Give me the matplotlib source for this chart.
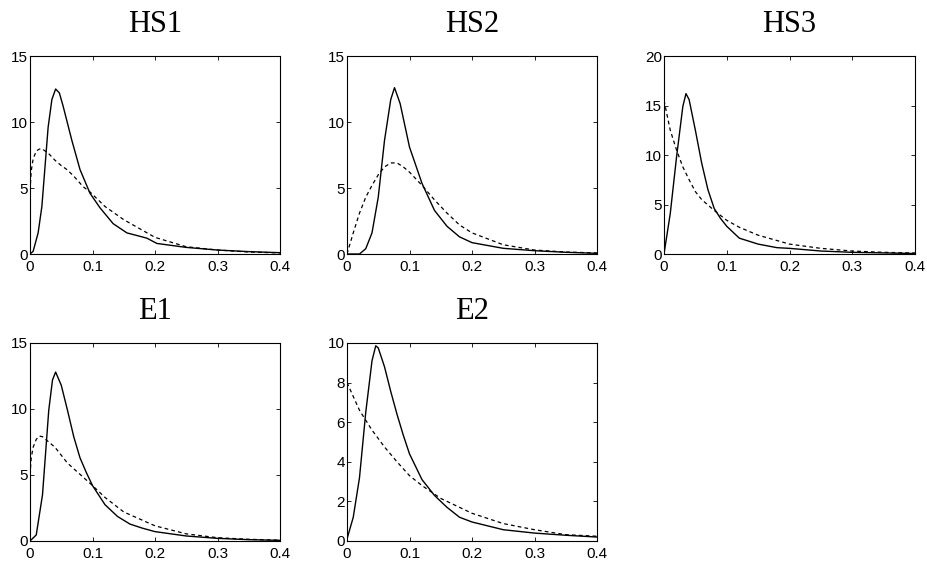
import matplotlib
matplotlib.use("Agg")
import matplotlib.pyplot as plt

# panel titles
titles = ["HS1", "HS2", "HS3", "E1", "E2"]
y_limits = [15, 15, 20, 15, 10]
y_steps = [5, 5, 5, 5, 2]
x_ticks = [0, 0.1, 0.2, 0.3, 0.4]
x_tick_labels = ["0", "0.1", "0.2", "0.3", "0.4"]

# HS1
hs1_solid_x = [0, 0.005, 0.013, 0.019, 0.024, 0.029, 0.035, 0.041, 0.047, 0.053, 0.060, 0.067,
               0.080, 0.096, 0.112, 0.133, 0.155, 0.187, 0.203, 0.25, 0.3, 0.35, 0.4]
hs1_solid_y = [0, 0.2, 1.6, 3.6, 6.6, 9.6, 11.7, 12.5, 12.2, 11.2, 9.9, 8.6,
               6.4, 4.6, 3.5, 2.3, 1.6, 1.2, 0.8, 0.5, 0.3, 0.18, 0.1]
hs1_dash_x = [0, 0.002, 0.005, 0.01, 0.015, 0.02, 0.03, 0.04, 0.05, 0.059, 0.07, 0.085,
              0.096, 0.12, 0.15, 0.2, 0.25, 0.3, 0.35, 0.4]
hs1_dash_y = [4.8, 6.3, 7.2, 7.8, 7.95, 7.95, 7.6, 7.1, 6.7, 6.4, 5.9, 5.1,
              4.7, 3.6, 2.6, 1.26, 0.55, 0.3, 0.15, 0.08]

# HS2
hs2_solid_x = [0, 0.02, 0.03, 0.04, 0.05, 0.06, 0.07, 0.076, 0.085, 0.1, 0.12, 0.14,
               0.16, 0.18, 0.2, 0.25, 0.3, 0.35, 0.4]
hs2_solid_y = [0, 0, 0.4, 1.6, 4.3, 8.6, 11.7, 12.6, 11.4, 8.1, 5.35, 3.3,
               2.1, 1.3, 0.86, 0.43, 0.25, 0.13, 0.05]
hs2_dash_x = [0, 0.01, 0.02, 0.03, 0.04, 0.05, 0.06, 0.07, 0.08, 0.09, 0.1, 0.12,
              0.14, 0.16, 0.18, 0.2, 0.25, 0.3, 0.35, 0.4]
hs2_dash_y = [0, 1.6, 3.1, 4.3, 5.2, 6.0, 6.6, 6.9, 6.9, 6.6, 6.2, 5.2,
              4.1, 3.1, 2.2, 1.6, 0.7, 0.3, 0.15, 0.08]

# HS3
hs3_solid_x = [0, 0.01, 0.02, 0.03, 0.035, 0.04, 0.05, 0.06, 0.07, 0.08, 0.09, 0.1,
               0.12, 0.15, 0.18, 0.2, 0.25, 0.3, 0.4]
hs3_solid_y = [0, 4.1, 9.8, 14.9, 16.2, 15.6, 12.5, 9.2, 6.5, 4.6, 3.6, 2.8,
               1.6, 1.0, 0.64, 0.57, 0.3, 0.17, 0.05]
hs3_dash_x = [0, 0.01, 0.02, 0.03, 0.04, 0.05, 0.06, 0.08, 0.1, 0.12, 0.15, 0.2,
              0.25, 0.3, 0.35, 0.4]
hs3_dash_y = [15.5, 12.5, 10.5, 8.8, 7.5, 6.3, 5.5, 4.4, 3.4, 2.7, 1.9, 1.0,
              0.57, 0.3, 0.17, 0.1]

# E1
e1_solid_x = [0, 0.01, 0.02, 0.03, 0.036, 0.041, 0.05, 0.06, 0.07, 0.08, 0.09, 0.1,
              0.12, 0.14, 0.16, 0.18, 0.2, 0.25, 0.3, 0.35, 0.4]
e1_solid_y = [0, 0.46, 3.5, 9.9, 12.2, 12.8, 11.8, 9.9, 7.9, 6.3, 5.2, 4.2,
              2.75, 1.86, 1.28, 0.97, 0.71, 0.38, 0.2, 0.1, 0.05]
e1_dash_x = [0, 0.002, 0.005, 0.01, 0.015, 0.02, 0.04, 0.06, 0.08, 0.1, 0.12, 0.15,
             0.2, 0.25, 0.3, 0.35, 0.4]
e1_dash_y = [5.0, 6.3, 7.1, 7.7, 7.95, 7.9, 7.1, 5.9, 5.05, 4.2, 3.3, 2.2,
             1.15, 0.54, 0.25, 0.13, 0.06]

# E2
e2_solid_x = [0, 0.01, 0.02, 0.03, 0.04, 0.046, 0.05, 0.06, 0.07, 0.08, 0.09, 0.1,
              0.12, 0.14, 0.16, 0.18, 0.2, 0.25, 0.3, 0.35, 0.4]
e2_solid_y = [0.1, 1.2, 3.2, 6.5, 9.1, 9.86, 9.75, 8.8, 7.55, 6.4, 5.35, 4.4,
              3.1, 2.3, 1.7, 1.2, 0.96, 0.57, 0.4, 0.29, 0.2]
e2_dash_x = [0, 0.02, 0.04, 0.06, 0.08, 0.1, 0.12, 0.15, 0.2, 0.25, 0.3, 0.35, 0.4]
e2_dash_y = [8.0, 6.6, 5.6, 4.75, 4.0, 3.3, 2.8, 2.15, 1.4, 0.88, 0.57, 0.32, 0.24]

solid_x = [hs1_solid_x, hs2_solid_x, hs3_solid_x, e1_solid_x, e2_solid_x]
solid_y = [hs1_solid_y, hs2_solid_y, hs3_solid_y, e1_solid_y, e2_solid_y]
dash_x = [hs1_dash_x, hs2_dash_x, hs3_dash_x, e1_dash_x, e2_dash_x]
dash_y = [hs1_dash_y, hs2_dash_y, hs3_dash_y, e1_dash_y, e2_dash_y]

W, H = 927, 565
fig = plt.figure(figsize=(W / 100, H / 100), dpi=100)
fig.patch.set_facecolor("white")

# axes boxes in pixels: left, top, right, bottom
boxes = [(30, 56, 280, 254), (347, 56, 597, 254), (664, 56, 915, 254),
         (30, 343, 280, 541), (347, 343, 597, 541)]

for i, (l, t, r, b) in enumerate(boxes):
    ax = fig.add_axes([l / W, 1 - b / H, (r - l) / W, (b - t) / H])
    ax.plot(solid_x[i], solid_y[i], color="black", linewidth=1.0)
    ax.plot(dash_x[i], dash_y[i], color="black", linewidth=0.9, linestyle=(0, (3, 2.5)))
    ax.set_xlim(0, 0.4)
    ax.set_ylim(0, y_limits[i])
    ax.set_xticks(x_ticks)
    ax.set_xticklabels(x_tick_labels)
    yt = list(range(0, y_limits[i] + 1, y_steps[i]))
    ax.set_yticks(yt)
    ax.set_yticklabels([str(v) for v in yt])
    ax.tick_params(direction="in", length=3, width=0.6, top=True, right=True,
                   labelsize=11)
    ax.tick_params(axis="x", pad=4)
    ax.tick_params(axis="y", pad=1.5)
    for lab in ax.get_xticklabels() + ax.get_yticklabels():
        lab.set_fontfamily("Liberation Sans")
    for s in ax.spines.values():
        s.set_linewidth(0.8)
    ax.set_title(titles[i], fontsize=22, fontfamily="Liberation Serif", pad=17)

fig.savefig("out.png", dpi=100)
